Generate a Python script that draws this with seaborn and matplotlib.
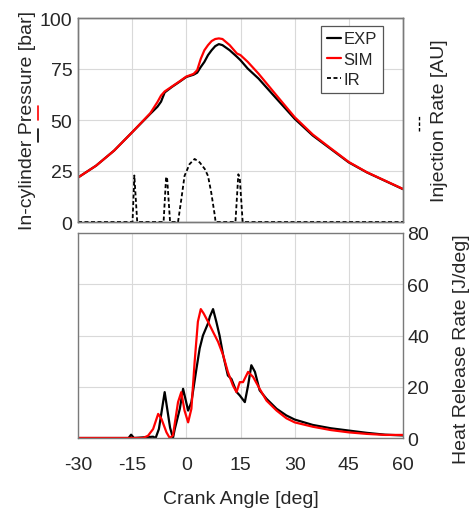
import pandas as pd
import matplotlib
matplotlib.use("Agg")
import matplotlib.pyplot as plt
from matplotlib.lines import Line2D
import seaborn as sns

# pressure traces [bar]
p_ca = [-30, -25, -20, -15, -10, -8, -7, -6, -4, -2, 0, 2, 3, 4, 5, 6, 7, 8, 9, 10,
        12, 14, 15, 17, 20, 25, 30, 35, 40, 45, 50, 55, 60]
p_exp = [21.8, 27.6, 35.0, 44.0, 53.0, 56.5, 59.0, 63.5, 66.2, 68.6, 71.1, 72.2, 73.2, 76.0,
         78.5, 81.8, 84.2, 86.2, 87.2, 86.7, 84.2, 81.0, 79.3, 75.2, 70.3, 60.4, 50.6, 42.4,
         35.8, 29.2, 24.3, 20.2, 16.1]
p_sim = [21.8, 27.6, 35.0, 44.0, 53.3, 58.8, 62.0, 64.0, 66.4, 68.8, 71.3, 72.6, 74.4, 80.0,
         84.2, 86.7, 88.7, 89.7, 90.0, 89.7, 86.7, 82.6, 81.8, 78.5, 72.7, 62.0, 51.4, 42.9,
         36.1, 29.4, 24.4, 20.3, 16.2]

# injection rate [AU], drawn on the pressure scale
ir_ca = [-30, -14.9, -14.4, -13.6, -6.3, -5.6, -5.3, -4.5, -2.3, -1.4, -0.5, 0.9, 2.3, 3.7,
         5.1, 6.0, 6.9, 7.9, 8.1, 13.6, 14.4, 14.8, 15.6, 60]
ir_val = [0, 0, 22.8, 0, 0, 22.2, 21.0, 0, 0, 11.0, 22.6, 28.4, 30.9, 29.2,
          26.0, 22.6, 14.4, 3.0, 0, 0, 23.4, 21.5, 0, 0]

# heat release rate [J/deg]
hrr_exp_ca = [-30, -16, -15.3, -14.5, -9.2, -8.5, -7.6, -6.0, -4.5, -3.7, -3.2, -1.8, -0.9,
              0.5, 1.4, 2.8, 3.7, 4.6, 6.0, 6.5, 7.4, 8.3, 9.2, 10.2, 11.5, 12.5, 13.9, 14.8,
              16.2, 17.1, 18.0, 19.0, 20.3, 22.2, 25, 27.7, 30, 35, 40, 45, 50, 55, 60]
hrr_exp = [0, 0, 1.3, 0, 0.5, 0, 3.5, 17.9, 4.0, 0, 3.5, 11.4, 19.2,
           10.7, 14.0, 27.0, 35.0, 40.0, 44.7, 47.3, 50.3, 45.4, 40.0, 32.3, 24.4, 23.0, 18.0, 16.6,
           14.0, 20.5, 28.4, 25.8, 18.6, 15.3, 11.4, 8.8, 7.2, 5.1, 3.8, 2.9, 2.0, 1.3, 1.0]
hrr_sim_ca = [-30, -12, -10.6, -9.2, -7.8, -6.9, -5.5, -4.6, -3.7, -2.3, -1.4, -0.5, 0.5, 1.4,
              2.3, 3.2, 4.0, 4.8, 6.0, 7.4, 8.8, 10.2, 11.5, 12.9, 13.9, 14.8, 15.7, 17.1, 18.5,
              20.3, 22.2, 25, 27.7, 30, 35, 40, 45, 50, 55, 60]
hrr_sim = [0, 0, 0.9, 3.5, 9.4, 7.5, 2.2, 0, 1.0, 14.0, 17.9, 10.7, 6.1, 11.4,
           29.7, 45.4, 50.3, 48.6, 45.4, 41.4, 37.5, 32.3, 25.8, 20.5, 17.9, 21.8, 21.8, 25.8, 23.8,
           19.2, 14.6, 10.7, 7.7, 6.1, 4.4, 3.1, 2.2, 1.6, 1.2, 1.2]

x_ticks = [-30, -15, 0, 15, 30, 45, 60]

sns.set_style("whitegrid", {"grid.color": "#d9d9d9", "axes.edgecolor": "#7a7a7a"})
plt.rcParams['font.family'] = ['Liberation Sans', 'DejaVu Sans']
plt.rcParams['font.size'] = 14
plt.rcParams['axes.unicode_minus'] = False

fig = plt.figure(figsize=(4.69, 5.10), dpi=100)
W, H = 469, 510
ax1 = fig.add_axes([78 / W, 1 - 223 / H, 325 / W, 204 / H])
ax2 = fig.add_axes([78 / W, 1 - 439 / H, 325 / W, 205 / H])

pres = pd.DataFrame({"ca": p_ca, "EXP": p_exp, "SIM": p_sim})
inj = pd.DataFrame({"ca": ir_ca, "IR": ir_val})
sns.lineplot(data=pres, x="ca", y="EXP", ax=ax1, color="black", lw=1.6, label="EXP")
sns.lineplot(data=pres, x="ca", y="SIM", ax=ax1, color="red", lw=1.6, label="SIM")

ax_ir = ax1.twinx()
sns.lineplot(data=inj, x="ca", y="IR", ax=ax_ir, color="black", lw=1.3,
             linestyle=(0, (2.2, 1.4)), label="IR")
ax_ir.set_ylim(0, 100)
ax_ir.set_yticks([])
ax_ir.grid(False)
ax_ir.set_ylabel("Injection Rate [AU]", fontsize=14)
ax_ir.yaxis.set_label_coords(1.085, 0.5)

ax1.set_xlim(-30, 60)
ax1.set_ylim(0, 100)
ax1.set_xticks(x_ticks[1:-1])
ax1.set_xticklabels([])
ax1.set_yticks([0, 25, 50, 75, 100])
ax1.set_xlabel("")
ax1.set_ylabel("In-cylinder Pressure [bar]", fontsize=14)
ax1.yaxis.set_label_coords(-0.128, 0.5)
ax1.tick_params(axis="y", length=0, pad=4, labelsize=14)
ax1.tick_params(axis="x", length=0)

h1, l1 = ax1.get_legend_handles_labels()
h2, l2 = ax_ir.get_legend_handles_labels()
ax1.get_legend().remove()
ax_ir.get_legend().remove()
leg = ax_ir.legend(h1 + h2, l1 + l2, loc="upper right", bbox_to_anchor=(0.937, 0.963),
                   fontsize=12, handlelength=0.85, handletextpad=0.15, borderpad=0.35,
                   borderaxespad=0, labelspacing=0.32, fancybox=False, framealpha=1,
                   edgecolor="#555555")
leg.get_frame().set_linewidth(0.9)

hrr = pd.concat([
    pd.DataFrame({"ca": hrr_exp_ca, "hrr": hrr_exp, "case": "EXP"}),
    pd.DataFrame({"ca": hrr_sim_ca, "hrr": hrr_sim, "case": "SIM"}),
])
sns.lineplot(data=hrr, x="ca", y="hrr", hue="case", palette={"EXP": "black", "SIM": "red"},
             ax=ax2, lw=1.6, legend=False)
ax2.set_xlim(-30, 60)
ax2.set_ylim(0, 80)
ax2.set_xticks(x_ticks)
ax2.set_yticks([0, 20, 40, 60, 80])
ax2.yaxis.tick_right()
ax2.yaxis.set_label_position("right")
ax2.set_ylabel("Heat Release Rate [J/deg]", fontsize=14)
ax2.yaxis.set_label_coords(1.155, 0.44)
ax2.set_xlabel("Crank Angle [deg]", fontsize=14, labelpad=12)
ax2.tick_params(axis="y", length=0, labelsize=14, pad=3)
ax2.tick_params(axis="x", length=0, labelsize=14, pad=13)

for a in (ax1, ax2, ax_ir):
    for s in a.spines.values():
        s.set_linewidth(1.0)

# line-style keys next to the axis labels
fig.add_artist(Line2D([38 / W, 38 / W], [1 - 143 / H, 1 - 130 / H], transform=fig.transFigure,
                      color="black", lw=1.2))
fig.add_artist(Line2D([38 / W, 38 / W], [1 - 121 / H, 1 - 107 / H], transform=fig.transFigure,
                      color="red", lw=1.2))
fig.add_artist(Line2D([419 / W, 419 / W], [1 - 132 / H, 1 - 117 / H], transform=fig.transFigure,
                      color="black", lw=1.0, linestyle=(0, (2.5, 1.5))))

fig.savefig("out.png", dpi=100)
